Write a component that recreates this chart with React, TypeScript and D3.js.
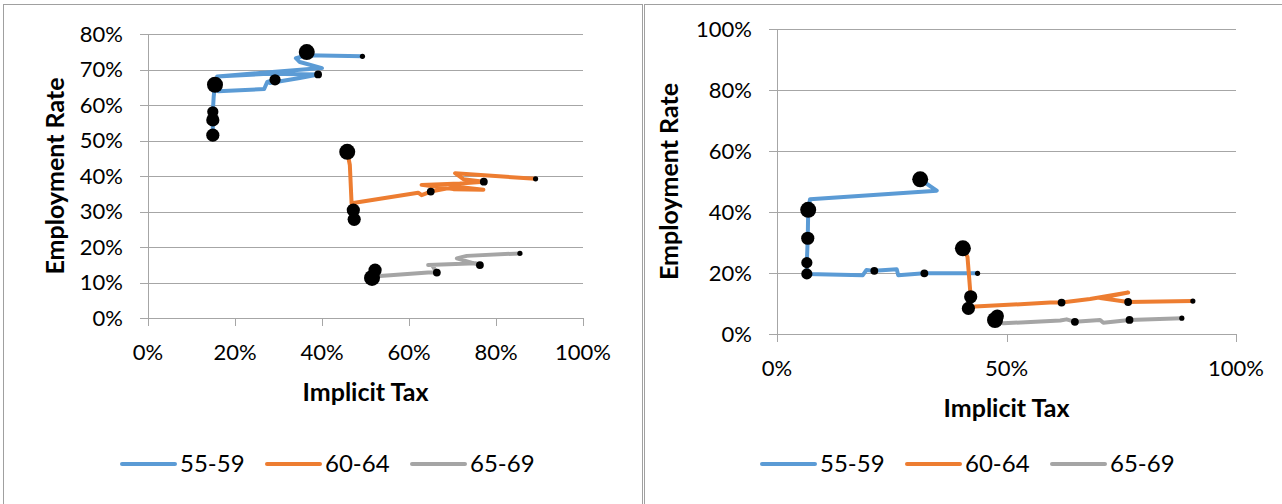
import React from "react";
import * as d3 from "d3";

// ---- data (implicit tax %, employment rate %) ----
const seriesNames = ["55-59", "60-64", "65-69"];
const seriesColors = ["#5B9BD5", "#ED7D31", "#A5A5A5"];

// left chart
const leftBlue: [number, number][] = [
  [14.9, 51.5], [14.9, 55.8], [14.9, 58.1], [15.1, 62.3], [15.4, 65.7],
  [16.1, 63.9], [26.7, 64.5], [27.4, 66.5], [29.2, 67.1], [28.0, 66.2],
  [34.9, 67.6], [39.1, 68.6], [27.5, 68.8], [15.9, 68.0], [25.7, 69.0],
  [40.0, 70.4], [34.9, 72.1], [34.0, 73.2], [36.5, 74.0], [49.3, 73.7],
];
const leftOrange: [number, number][] = [
  [45.8, 46.8], [46.4, 43.1], [46.8, 32.3], [62.1, 35.3], [62.9, 34.6],
  [65.0, 35.6], [71.0, 37.0], [77.1, 36.1], [70.2, 36.3], [62.9, 37.5],
  [71.7, 37.9], [77.2, 38.4], [72.5, 39.1], [70.6, 40.8], [89.0, 39.2],
];
const leftGray: [number, number][] = [
  [52.2, 13.5], [53.3, 11.8], [64.4, 12.8], [66.4, 12.8], [65.3, 14.9],
  [64.4, 14.9], [75.4, 15.4], [76.3, 14.9], [71.0, 16.8], [73.3, 17.5],
  [85.5, 18.2],
];
// black markers: x, y, size class (1 = smallest .. 5 = largest)
const leftDots: [number, number, number][] = [
  [14.9, 51.5, 4], [14.9, 55.8, 4], [14.9, 58.1, 3], [15.4, 65.7, 5],
  [29.2, 67.1, 3], [36.5, 74.9, 5], [39.1, 68.6, 2], [49.3, 73.7, 1],
  [45.8, 46.8, 5], [47.2, 30.4, 4], [47.4, 27.8, 4], [65.0, 35.6, 2],
  [77.2, 38.4, 2], [89.1, 39.2, 1],
  [51.5, 11.3, 5], [52.2, 13.5, 4], [66.4, 12.8, 2], [76.3, 14.9, 2],
  [85.5, 18.2, 1],
];

// right chart
const rightBlue: [number, number][] = [
  [31.2, 50.7], [34.8, 47.0], [7.2, 44.2], [6.8, 40.7], [6.7, 31.4],
  [6.5, 23.4], [6.5, 19.7], [18.7, 19.3], [19.5, 21.0], [21.2, 20.7],
  [26.1, 21.2], [26.4, 19.3], [32.1, 19.9], [43.7, 19.9],
];
const rightOrange: [number, number][] = [
  [40.5, 28.1], [41.5, 25.3], [42.2, 12.2], [41.7, 8.4], [43.1, 9.0],
  [59.5, 10.3], [62.0, 10.3], [68.2, 11.5], [76.5, 13.6], [70.4, 11.8],
  [76.5, 10.5], [90.6, 10.8],
];
const rightGray: [number, number][] = [
  [48.0, 5.9], [47.5, 4.6], [49.3, 3.5], [61.7, 4.4], [63.1, 4.8],
  [64.9, 4.0], [70.4, 4.6], [71.1, 3.7], [76.8, 4.6], [88.2, 5.2],
];
const rightDots: [number, number, number][] = [
  [31.2, 50.7, 5], [6.8, 40.7, 5], [6.7, 31.4, 4], [6.5, 23.4, 3],
  [6.5, 19.7, 3], [21.2, 20.7, 2], [32.1, 19.9, 2], [43.7, 19.9, 1],
  [40.5, 28.1, 5], [42.2, 12.2, 4], [41.7, 8.4, 4], [62.0, 10.3, 2],
  [76.5, 10.5, 2], [90.6, 10.8, 1],
  [47.5, 4.6, 5], [48.0, 5.9, 4], [64.9, 4.0, 2], [76.8, 4.6, 2],
  [88.2, 5.2, 1],
];

const leftYTicks = [0, 10, 20, 30, 40, 50, 60, 70, 80];
const leftXTicks = [0, 20, 40, 60, 80, 100];
const rightYTicks = [0, 20, 40, 60, 80, 100];
const rightXTicks = [0, 50, 100];

const dotRadius = [0, 2.6, 3.9, 5.6, 6.6, 8];
const font = "Lato, 'Open Sans', sans-serif";
const gridColor = "#A6A6A6";

type PanelProps = {
  ox: number;
  plot: { x0: number; x1: number; y0: number; y1: number };
  yMax: number;
  yTicks: number[];
  xTicks: number[];
  lines: [number, number][][];
  dots: [number, number, number][];
  xTitleY: number;
  yTitleX: number;
};

const Panel = ({ ox, plot, yMax, yTicks, xTicks, lines, dots, xTitleY, yTitleX }: PanelProps) => {
  const x = d3.scaleLinear().domain([0, 100]).range([plot.x0, plot.x1]);
  const y = d3.scaleLinear().domain([0, yMax]).range([plot.y1, plot.y0]);
  const path = d3.line<[number, number]>().x((d) => x(d[0])).y((d) => y(d[1]));
  const legendX = ox + 122;
  return (
    <g>
      {yTicks.map((t) => (
        <g key={"y" + t}>
          <line x1={plot.x0 - 8} x2={plot.x1} y1={Math.round(y(t)) + 0.5} y2={Math.round(y(t)) + 0.5} stroke={gridColor} strokeWidth={1} />
          <text x={plot.x0 - 25} y={y(t)} dy="0.35em" textAnchor="end" fontSize={22} fill="#000">
            {t}%
          </text>
        </g>
      ))}
      <line x1={plot.x0 + 0.5} x2={plot.x0 + 0.5} y1={plot.y0} y2={plot.y1 + 8} stroke={gridColor} strokeWidth={1} />
      {xTicks.map((t) => (
        <g key={"x" + t}>
          <line x1={Math.round(x(t)) + 0.5} x2={Math.round(x(t)) + 0.5} y1={plot.y1} y2={plot.y1 + 8} stroke={gridColor} strokeWidth={1} />
          <text x={x(t)} y={plot.y1 + 34} dy="0.35em" textAnchor="middle" fontSize={22} fill="#000">
            {t}%
          </text>
        </g>
      ))}
      {lines.map((pts, i) => (
        <path key={"l" + i} d={path(pts) || ""} fill="none" stroke={seriesColors[i]} strokeWidth={4} strokeLinejoin="round" strokeLinecap="round" />
      ))}
      {dots.map((d, i) => (
        <circle key={"d" + i} cx={x(d[0])} cy={y(d[1])} r={dotRadius[d[2]]} fill="#000" />
      ))}
      <text x={(plot.x0 + plot.x1) / 2} y={xTitleY} dy="0.35em" textAnchor="middle" fontSize={25} fontWeight="bold">
        Implicit Tax
      </text>
      <text
        transform={`translate(${yTitleX},${(plot.y0 + plot.y1) / 2}) rotate(-90)`}
        dy="0.35em"
        textAnchor="middle"
        fontSize={25}
        fontWeight="bold"
      >
        Employment Rate
      </text>
      {seriesNames.map((n, i) => (
        <g key={n} transform={`translate(${legendX + i * 145},464)`}>
          <line x1={0} x2={53} y1={0} y2={0} stroke={seriesColors[i]} strokeWidth={4} strokeLinecap="round" />
          <text x={58} y={0} dy="0.35em" fontSize={24}>
            {n}
          </text>
        </g>
      ))}
    </g>
  );
};

export default function App() {
  return (
    <svg width={1282} height={504} style={{ position: "absolute", left: 0, top: 0, fontFamily: font }}>
      <rect x={0} y={0} width={1282} height={504} fill="#fff" />
      <rect x={3.5} y={4.5} width={639} height={520} fill="none" stroke="#A0A0A0" strokeWidth={1} />
      <rect x={644.5} y={4.5} width={660} height={520} fill="none" stroke="#A0A0A0" strokeWidth={1} />
      <Panel
        ox={0}
        plot={{ x0: 148, x1: 583, y0: 34, y1: 318 }}
        yMax={80}
        yTicks={leftYTicks}
        xTicks={leftXTicks}
        lines={[leftBlue, leftOrange, leftGray]}
        dots={leftDots}
        xTitleY={392}
        yTitleX={55}
      />
      <Panel
        ox={640}
        plot={{ x0: 777, x1: 1236, y0: 29, y1: 334 }}
        yMax={100}
        yTicks={rightYTicks}
        xTicks={rightXTicks}
        lines={[rightBlue, rightOrange, rightGray]}
        dots={rightDots}
        xTitleY={408}
        yTitleX={669}
      />
    </svg>
  );
}
